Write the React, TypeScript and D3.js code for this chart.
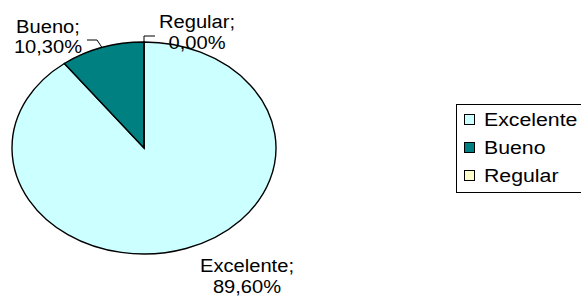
import React, { useEffect, useRef } from "react";
import * as d3 from "d3";

const categories = ["Excelente", "Bueno", "Regular"];
const values = [89.6, 10.3, 0.0];
const valueLabels = ["89,60%", "10,30%", "0,00%"];
const colors = ["#CCFFFF", "#008080", "#FFFFCC"];

const App = () => {
  const svgRef = useRef<SVGSVGElement>(null);

  useEffect(() => {
    const width = 581;
    const height = 297;
    const cx = 144;
    const cy = 148;
    const rx = 132;
    const ry = 106;
    const font = "Arial, 'Liberation Sans', sans-serif";

    const svg = d3
      .select(svgRef.current)
      .attr("width", width)
      .attr("height", height)
      .attr("viewBox", `0 0 ${width} ${height}`);

    svg.selectAll("*").remove();

    svg.append("rect").attr("width", width).attr("height", height).attr("fill", "#fff");

    const data = categories.map((c, i) => ({ name: c, value: values[i], label: valueLabels[i], color: colors[i] }));

    const pie = d3
      .pie<any>()
      .sort(null)
      .value((d) => d.value)
      .startAngle(0)
      .endAngle(2 * Math.PI);
    const arcs = pie(data);
    const arc = d3.arc<any>().innerRadius(0).outerRadius(rx);

    // pie drawn as a circle, squashed into an ellipse
    const g = svg
      .append("g")
      .attr("transform", `translate(${cx},${cy}) scale(1,${ry / rx})`);

    g.selectAll("path")
      .data(arcs)
      .join("path")
      .attr("d", arc)
      .attr("fill", (d) => d.data.color)
      .attr("stroke", "#000")
      .attr("stroke-width", 1.4)
      .attr("vector-effect", "non-scaling-stroke");

    const edge = (a: number) => [cx + rx * Math.sin(a), cy - ry * Math.cos(a)];

    // label positions (layout)
    const labelPos: Record<string, any> = {
      Excelente: { x: 247, y: 272, leader: null },
      Bueno: { x: 48, y: 32.5, leader: [[97, 40], [87, 40]] },
      Regular: { x: 197, y: 28, leader: [[144, 36], [155, 36]] },
    };

    arcs.forEach((d) => {
      const p = labelPos[d.data.name];
      const mid = (d.startAngle + d.endAngle) / 2;
      if (p.leader) {
        const start = d.data.name === "Regular" ? [cx, cy - ry] : edge(mid);
        svg
          .append("path")
          .attr("d", d3.line()([start as [number, number], ...p.leader]))
          .attr("fill", "none")
          .attr("stroke", "#000")
          .attr("stroke-width", 1);
      }
      const t = svg
        .append("text")
        .attr("text-anchor", "middle")
        .attr("font-family", font)
        .attr("font-size", 19)
        .attr("fill", "#000")
        .attr("transform", `translate(${p.x},${p.y}) scale(1.06,1)`);
      t.append("tspan").attr("x", 0).attr("y", 0).text(`${d.data.name};`);
      t.append("tspan").attr("x", 0).attr("y", 21).text(d.data.label);
    });

    // legend
    const legend = svg.append("g");
    legend
      .append("rect")
      .attr("x", 456.5)
      .attr("y", 104.5)
      .attr("width", 160)
      .attr("height", 88)
      .attr("fill", "#fff")
      .attr("stroke", "#000")
      .attr("stroke-width", 1);

    const ly = d3.scalePoint<string>().domain(categories).range([119, 175]);

    const item = legend
      .selectAll("g.item")
      .data(data)
      .join("g")
      .attr("class", "item")
      .attr("transform", (d) => `translate(0,${ly(d.name)})`);

    item
      .append("rect")
      .attr("x", 464.5)
      .attr("y", -4.5)
      .attr("width", 10)
      .attr("height", 10)
      .attr("fill", (d) => d.color)
      .attr("stroke", "#000")
      .attr("stroke-width", 1);

    item
      .append("text")
      .attr("transform", "translate(484,6.5) scale(1.12,1)")
      .attr("font-family", font)
      .attr("font-size", 19)
      .attr("fill", "#000")
      .text((d) => d.name);
  }, []);

  return (
    <div style={{ position: "absolute", left: 0, top: 0, width: 581, height: 297, overflow: "hidden" }}>
      <svg ref={svgRef} style={{ display: "block" }}></svg>
    </div>
  );
};

export default App;
